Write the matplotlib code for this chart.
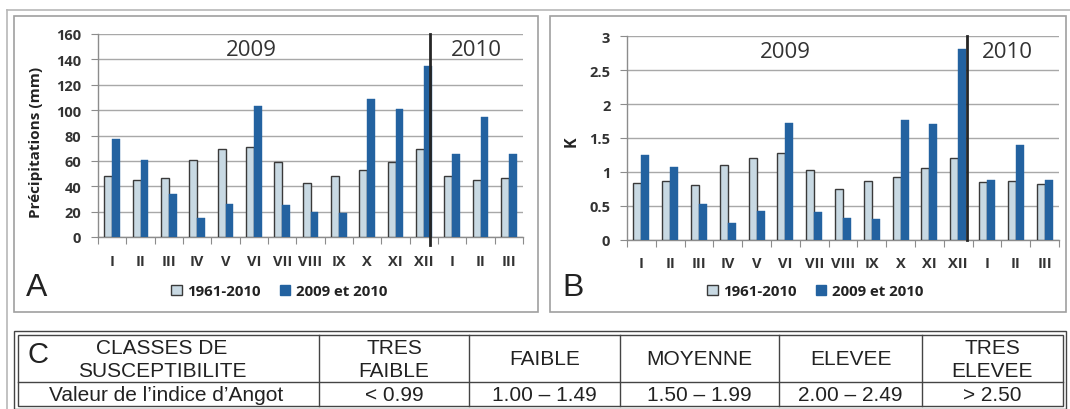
import matplotlib
matplotlib.use('Agg')
import matplotlib.pyplot as plt
from matplotlib.patches import Rectangle, Patch
from matplotlib.lines import Line2D
from matplotlib.ticker import FuncFormatter
import numpy as np

# ---------------- data ----------------
months = ['I', 'II', 'III', 'IV', 'V', 'VI', 'VII', 'VIII', 'IX', 'X', 'XI', 'XII', 'I', 'II', 'III']
precip_1961_2010 = [48, 45, 46.4, 60.6, 69.2, 70.8, 59, 42.5, 48, 52.7, 59, 69, 48, 45, 46.4]
precip_2009_2010 = [77.4, 60.6, 33.6, 15, 26, 103, 25.2, 20, 18.6, 109, 101, 134.8, 65.6, 94.2, 65.3]
k_1961_2010 = [0.84, 0.87, 0.81, 1.10, 1.21, 1.28, 1.03, 0.74, 0.87, 0.92, 1.06, 1.21, 0.85, 0.87, 0.82]
k_2009_2010 = [1.245, 1.07, 0.53, 0.24, 0.415, 1.72, 0.405, 0.317, 0.307, 1.76, 1.70, 2.81, 0.876, 1.40, 0.876]
series_labels = ['1961-2010', '2009 et 2010']
year_labels = ['2009', '2010']
table_header = ['CLASSES DE\nSUSCEPTIBILITE', 'TRES\nFAIBLE', 'FAIBLE', 'MOYENNE', 'ELEVEE', 'TRES\nELEVEE']
table_values = ['Valeur de l\u2019indice d\u2019Angot', '< 0.99', '1.00 \u2013 1.49', '1.50 \u2013 1.99',
                '2.00 \u2013 2.49', '> 2.50']

# ---------------- style ----------------
W, H = 1070, 410
GREY = '#c8d9e3'
BLUE = '#2362a0'
EDGE = '#3a3a3a'
GRID = '#a8a8a8'
TXT = '#333333'
CHART_FONT = ['Open Sans', 'DejaVu Sans']
ARIAL = ['Liberation Sans', 'DejaVu Sans']


def fx(px):
    return px / W


def fy(py):
    return 1 - py / H


fig = plt.figure(figsize=(W / 100, H / 100), dpi=100)
fig.patch.set_facecolor('white')


def panel(ax, normal, recent, ymax, ystep, sep_x, sep_below):
    x = np.arange(len(months))
    w = 0.28
    ax.bar(x - w, normal, width=w, align='edge', color=GREY, edgecolor=EDGE, linewidth=1.0, zorder=3)
    ax.bar(x, recent, width=w, align='edge', color=BLUE, edgecolor=BLUE, linewidth=0.3, zorder=3)
    ax.set_xlim(-0.5, len(months) - 0.5)
    ax.set_ylim(0, ymax)
    ax.set_yticks(np.arange(0, ymax + ystep / 2, ystep))
    ax.yaxis.set_major_formatter(FuncFormatter(lambda v, p: '%g' % v))
    ax.yaxis.grid(True, color=GRID, linewidth=1.0, zorder=0)
    ax.set_axisbelow(True)
    for s in ['top', 'right']:
        ax.spines[s].set_visible(False)
    for s in ['left', 'bottom']:
        ax.spines[s].set_color('#8c8c8c')
        ax.spines[s].set_linewidth(1.0)
    ax.set_xticks(np.arange(-0.5, len(months), 1))
    ax.set_xticklabels([])
    ax.tick_params(axis='x', which='major', length=5, color='#8c8c8c', direction='out')
    ax.set_xticks(x, minor=True)
    ax.set_xticklabels(months, minor=True)
    ax.tick_params(axis='x', which='minor', length=0, pad=12, labelsize=10.5, labelcolor=TXT)
    ax.tick_params(axis='y', length=5, color='#8c8c8c', pad=7, labelsize=10.5, labelcolor=TXT)
    for lab in ax.get_xticklabels(minor=True) + ax.get_yticklabels():
        lab.set_fontfamily(CHART_FONT)
        lab.set_fontweight('bold')
    ax.plot([sep_x, sep_x], [-sep_below, 1], transform=ax.get_xaxis_transform(), color='#262626',
            linewidth=2.0, clip_on=False, zorder=6)


# panel A
ax_a = fig.add_axes([fx(98), fy(238), (523 - 98) / W, (238 - 35) / H])
panel(ax_a, precip_1961_2010, precip_2009_2010, 160, 20, 11.23, 0.04)
# panel B
ax_b = fig.add_axes([fx(627), fy(240.5), (1059 - 627) / W, (240.5 - 37.3) / H])
panel(ax_b, k_1961_2010, k_2009_2010, 3, 0.5, 11.3, 0.0)

# y labels
fig.text(fx(36), fy(142), 'Précipitations (mm)', rotation=90, ha='center', va='center',
         fontsize=11, fontweight='bold', color='#222222', family=CHART_FONT)
fig.text(fx(572), fy(142), 'K', rotation=90, ha='center', va='center',
         fontsize=11.5, fontweight='bold', color='#222222', family=CHART_FONT)

# year labels
for (px, py), t in zip([(251, 50), (476, 50)], year_labels):
    fig.text(fx(px), fy(py), t, ha='center', va='center', fontsize=16, color=TXT, family=CHART_FONT)
for (px, py), t in zip([(785, 53), (1007, 53)], year_labels):
    fig.text(fx(px), fy(py), t, ha='center', va='center', fontsize=16, color=TXT, family=CHART_FONT)

# legends
handles = [Patch(facecolor=GREY, edgecolor=EDGE, linewidth=1.0), Patch(facecolor=BLUE, edgecolor=BLUE)]
for cx in (279, 815):
    fig.legend(handles, series_labels, loc='center', bbox_to_anchor=(fx(cx), fy(292)), ncol=2,
               frameon=False, prop={'family': CHART_FONT, 'weight': 'bold', 'size': 10.8},
               handlelength=0.7, handleheight=0.7, handletextpad=0.35, columnspacing=1.3,
               borderaxespad=0, borderpad=0, labelcolor='#222222')

# panel letters
fig.text(fx(37), fy(288), 'A', ha='center', va='center', fontsize=23, color='#222222', family=ARIAL)
fig.text(fx(573), fy(288), 'B', ha='center', va='center', fontsize=23, color='#222222', family=ARIAL)

# frames
fig.add_artist(Line2D([fx(7), fx(W)], [fy(11), fy(11)], color='#b8b8b8', linewidth=1.2))
fig.add_artist(Line2D([fx(7), fx(7)], [fy(11), fy(H)], color='#b8b8b8', linewidth=1.2))
for (x0, x1) in [(14, 538), (550, 1066)]:
    fig.add_artist(Rectangle((fx(x0), fy(313)), (x1 - x0) / W, (313 - 17) / H, transform=fig.transFigure,
                             fill=False, edgecolor='#a0a0a0', linewidth=1.2))

# table C
TC = '#444444'
TFS = 15
fig.add_artist(Rectangle((fx(14), fy(409.5)), (1066 - 14) / W, (409.5 - 332) / H, transform=fig.transFigure,
                         fill=False, edgecolor=TC, linewidth=1.0))
fig.add_artist(Rectangle((fx(17.5), fy(406.5)), (1062.5 - 17.5) / W, (406.5 - 335.5) / H,
                         transform=fig.transFigure, fill=False, edgecolor=TC, linewidth=1.0))
fig.add_artist(Line2D([fx(17.5), fx(1062.5)], [fy(383), fy(383)], color=TC, linewidth=1.0))
col_lines = [319, 469, 620, 779, 922]
for cxl in col_lines:
    fig.add_artist(Line2D([fx(cxl), fx(cxl)], [fy(335.5), fy(406.5)], color=TC, linewidth=1.0))
col_edges = [17.5] + col_lines + [1062.5]
centers = [(col_edges[i] + col_edges[i + 1]) / 2 for i in range(6)]
centers[0] = 162
for c, t in zip(centers, table_header):
    lines = t.split('\n')
    if len(lines) == 2:
        fig.text(fx(c), fy(348.5), lines[0], ha='center', va='center', fontsize=TFS, color='#222222', family=ARIAL)
        fig.text(fx(c), fy(372), lines[1], ha='center', va='center', fontsize=TFS, color='#222222', family=ARIAL)
    else:
        fig.text(fx(c), fy(360), lines[0], ha='center', va='center', fontsize=TFS, color='#222222', family=ARIAL)
for c, t in zip(centers, table_values):
    cc = 166 if t.startswith('Valeur') else c
    fig.text(fx(cc), fy(396), t, ha='center', va='center', fontsize=TFS, color='#222222', family=ARIAL)
fig.text(fx(38), fy(355), 'C', ha='center', va='center', fontsize=21, color='#222222', family=ARIAL)

fig.savefig('out.png', dpi=100, facecolor='white')
